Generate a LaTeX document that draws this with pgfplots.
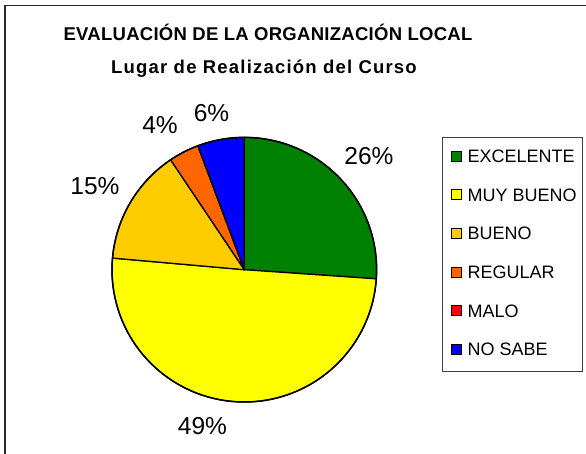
\documentclass[border=0pt]{standalone}
\usepackage{fontspec}
\setmainfont{Liberation Sans}
\usepackage{pgfplots}
\usepackage{pgfplotstable}
\pgfplotsset{compat=1.18}

\definecolor{cExc}{HTML}{008000}
\definecolor{cMuy}{HTML}{FFFF00}
\definecolor{cBue}{HTML}{FFCC00}
\definecolor{cReg}{HTML}{FF6600}
\definecolor{cMal}{HTML}{FF0000}
\definecolor{cNos}{HTML}{0000FF}

% value = share of the pie (percent), label = legend text
\pgfplotstableread[col sep=comma]{
label,value,color,pct,lx,ly
EXCELENTE,26.1,cExc,26\%,369,289
MUY BUENO,50.3,cMuy,49\%,202.5,19
BUENO,14.2,cBue,15\%,95,259
REGULAR,3.7,cReg,4\%,160,320.7
MALO,0,cMal,,0,0
NO SABE,5.7,cNos,6\%,211.5,332.3
}\piedata

\begin{document}
\begin{tikzpicture}
\begin{axis}[
  x=1pt, y=1pt, scale only axis,
  xmin=0, xmax=586, ymin=0, ymax=454,
  hide axis, clip=false,
]
\coordinate (SW) at (axis cs:0,0);
\coordinate (NE) at (axis cs:586,454);
% outer frame (only left and top visible; the rest lies outside the picture)
\draw[black!85, line width=1.6pt] (axis cs:5,-20) rectangle (axis cs:620,448.5);

% titles
\node[anchor=base, font=\bfseries\fontsize{18.5}{20}\selectfont\addfontfeatures{LetterSpace=1.5}] at (axis cs:268,413.3) {EVALUACIÓN DE LA ORGANIZACIÓN LOCAL};
\node[anchor=base, font=\bfseries\fontsize{18.5}{20}\selectfont\addfontfeatures{LetterSpace=6.5}] at (axis cs:264,380) {Lugar de Realización del Curso};

% pie wedges and legend entries
\pgfplotstablegetrowsof{\piedata}
\pgfmathtruncatemacro\nrows{\pgfplotsretval-1}
\xdef\angA{90}
\pgfplotsforeachungrouped \i in {0,...,\nrows}{
  \pgfplotstablegetelem{\i}{value}\of\piedata \let\val\pgfplotsretval
  \pgfplotstablegetelem{\i}{color}\of\piedata \let\col\pgfplotsretval
  \pgfplotstablegetelem{\i}{label}\of\piedata \let\lab\pgfplotsretval
  \pgfplotstablegetelem{\i}{pct}\of\piedata \let\pct\pgfplotsretval
  \pgfplotstablegetelem{\i}{lx}\of\piedata \let\lx\pgfplotsretval
  \pgfplotstablegetelem{\i}{ly}\of\piedata \let\ly\pgfplotsretval
  \pgfmathsetmacro\angB{\angA-3.6*\val}
  \pgfmathsetmacro\ry{316.7-12.5-6.5-38.6*\i}
  \edef\temp{%
    \noexpand\filldraw[fill=\col, draw=black, line width=1.3pt, line join=round]
      (axis cs:244.3,184.3) -- ++(\angA:132.3pt) arc[start angle=\angA, end angle=\angB, radius=132.3pt] -- cycle;
    \noexpand\node[anchor=base, font=\noexpand\fontsize{24.5}{26}\noexpand\selectfont] at (axis cs:\lx,\ly) {\pct};
    \noexpand\filldraw[fill=\col, draw=black, line width=0.9pt] (axis cs:451.7,\ry-5) rectangle (axis cs:461.7,\ry+5);
    \noexpand\node[anchor=west, inner sep=0pt, text height=13pt, text depth=0pt, font=\noexpand\fontsize{18}{20}\noexpand\selectfont] at (axis cs:467.5,\ry) {\lab};
  }%
  \temp
  \xdef\angA{\angB}
}
% pie outline
\draw[black, line width=1.5pt] (axis cs:244.3,184.3) circle[radius=132.3pt];
% legend box
\draw[black!75, line width=0.9pt] (axis cs:442.3,316.7) rectangle (axis cs:582,82.3);
\end{axis}
\pgfresetboundingbox
\path[use as bounding box] (SW) rectangle (NE);
\end{tikzpicture}
\end{document}
